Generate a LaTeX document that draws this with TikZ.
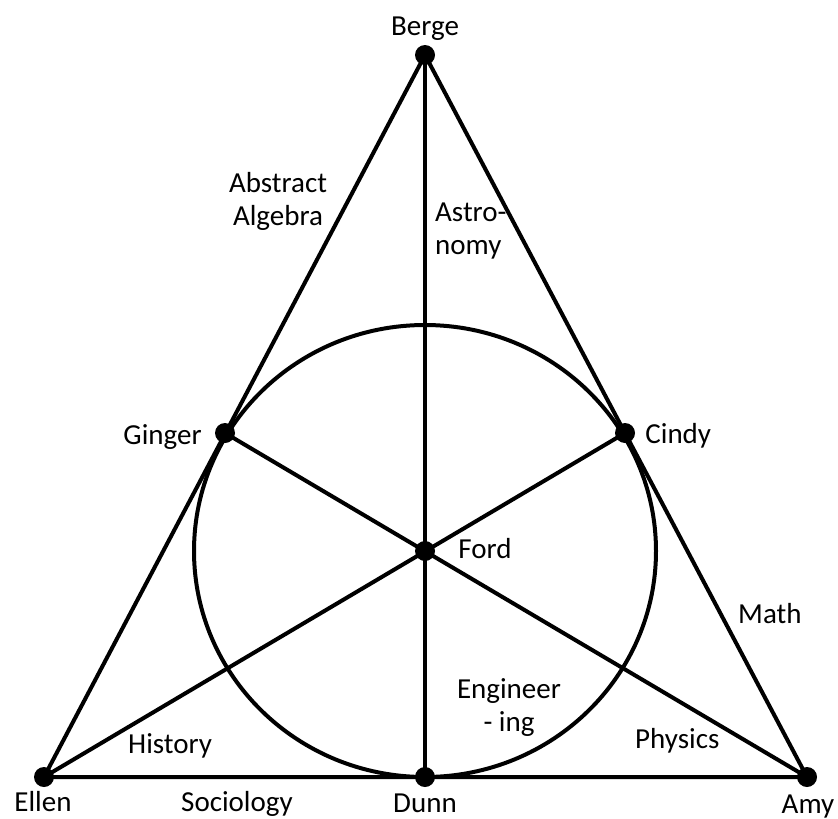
\documentclass[tikz,border=0pt]{standalone}
\usepackage{fontspec}
\setmainfont{Carlito}
\usetikzlibrary{positioning}
\tikzset{
  vertex/.style={
    circle,
    fill=black,
    inner sep=0pt,
    minimum size=20pt
  },
  edge/.style={
    line width=4pt,
    draw=black
  },
  vname/.style={
    font=\fontsize{29}{33}\selectfont,
    inner sep=0pt
  },
  topic/.style={
    vname,
    align=left
  }
}
\begin{document}
\begin{tikzpicture}[x=1pt,y=-1pt]
  \useasboundingbox (0,0) rectangle (838,819);

  % points of the plane
  \node[vertex] (berge) at (425,55) {};
  \node[vertex] (ellen) at (44,777) {};
  \node[vertex] (amy) at (807,777) {};
  \node[vertex] (dunn) at (425,777) {};
  \node[vertex] (ginger) at (225,433) {};
  \node[vertex] (cindy) at (625,433) {};
  \node[vertex] (ford) at (425,551) {};

  % lines of the plane
  \draw[edge] (berge.center) -- (ellen.center) -- (amy.center) -- cycle;
  \draw[edge] (berge.center) -- (dunn.center);
  \draw[edge] (ginger.center) -- (amy.center);
  \draw[edge] (cindy.center) -- (ellen.center);
  \draw[edge] (425,551) ellipse [x radius=231, y radius=226];

  % names
  \node[vname, above=4pt of berge] (bergetxt) {Berge};
  \node[vname, below=4pt of ellen, xshift=-1pt] (ellentxt) {Ellen};
  \node[vname, below=7pt of amy, xshift=1pt] (amytxt) {Amy};
  \node[vname, below=6pt of dunn] (dunntxt) {Dunn};
  \node[vname, left=13pt of ginger, yshift=-4pt] (gingertxt) {Ginger};
  \node[vname, right=10pt of cindy, yshift=-3pt] (cindytxt) {Cindy};
  \node[vname, right=23pt of ford, yshift=2pt] (fordtxt) {Ford};

  % subjects
  \node[topic, align=center, anchor=north] (algebra) at (278,172) {Abstract\\Algebra};
  \node[topic, anchor=north west] (astro) at (435,203) {Astro-\\nomy};
  \node[topic, anchor=base west] (math) at (738,623) {Math};
  \node[topic, align=center, anchor=north] (engin) at (509,678) {Engineer\\- ing};
  \node[topic, anchor=base west] (physics) at (635,748) {Physics};
  \node[topic, anchor=base west] (history) at (128,753) {History};
  \node[topic, anchor=base west] (socio) at (181,811) {Sociology};
\end{tikzpicture}
\end{document}
